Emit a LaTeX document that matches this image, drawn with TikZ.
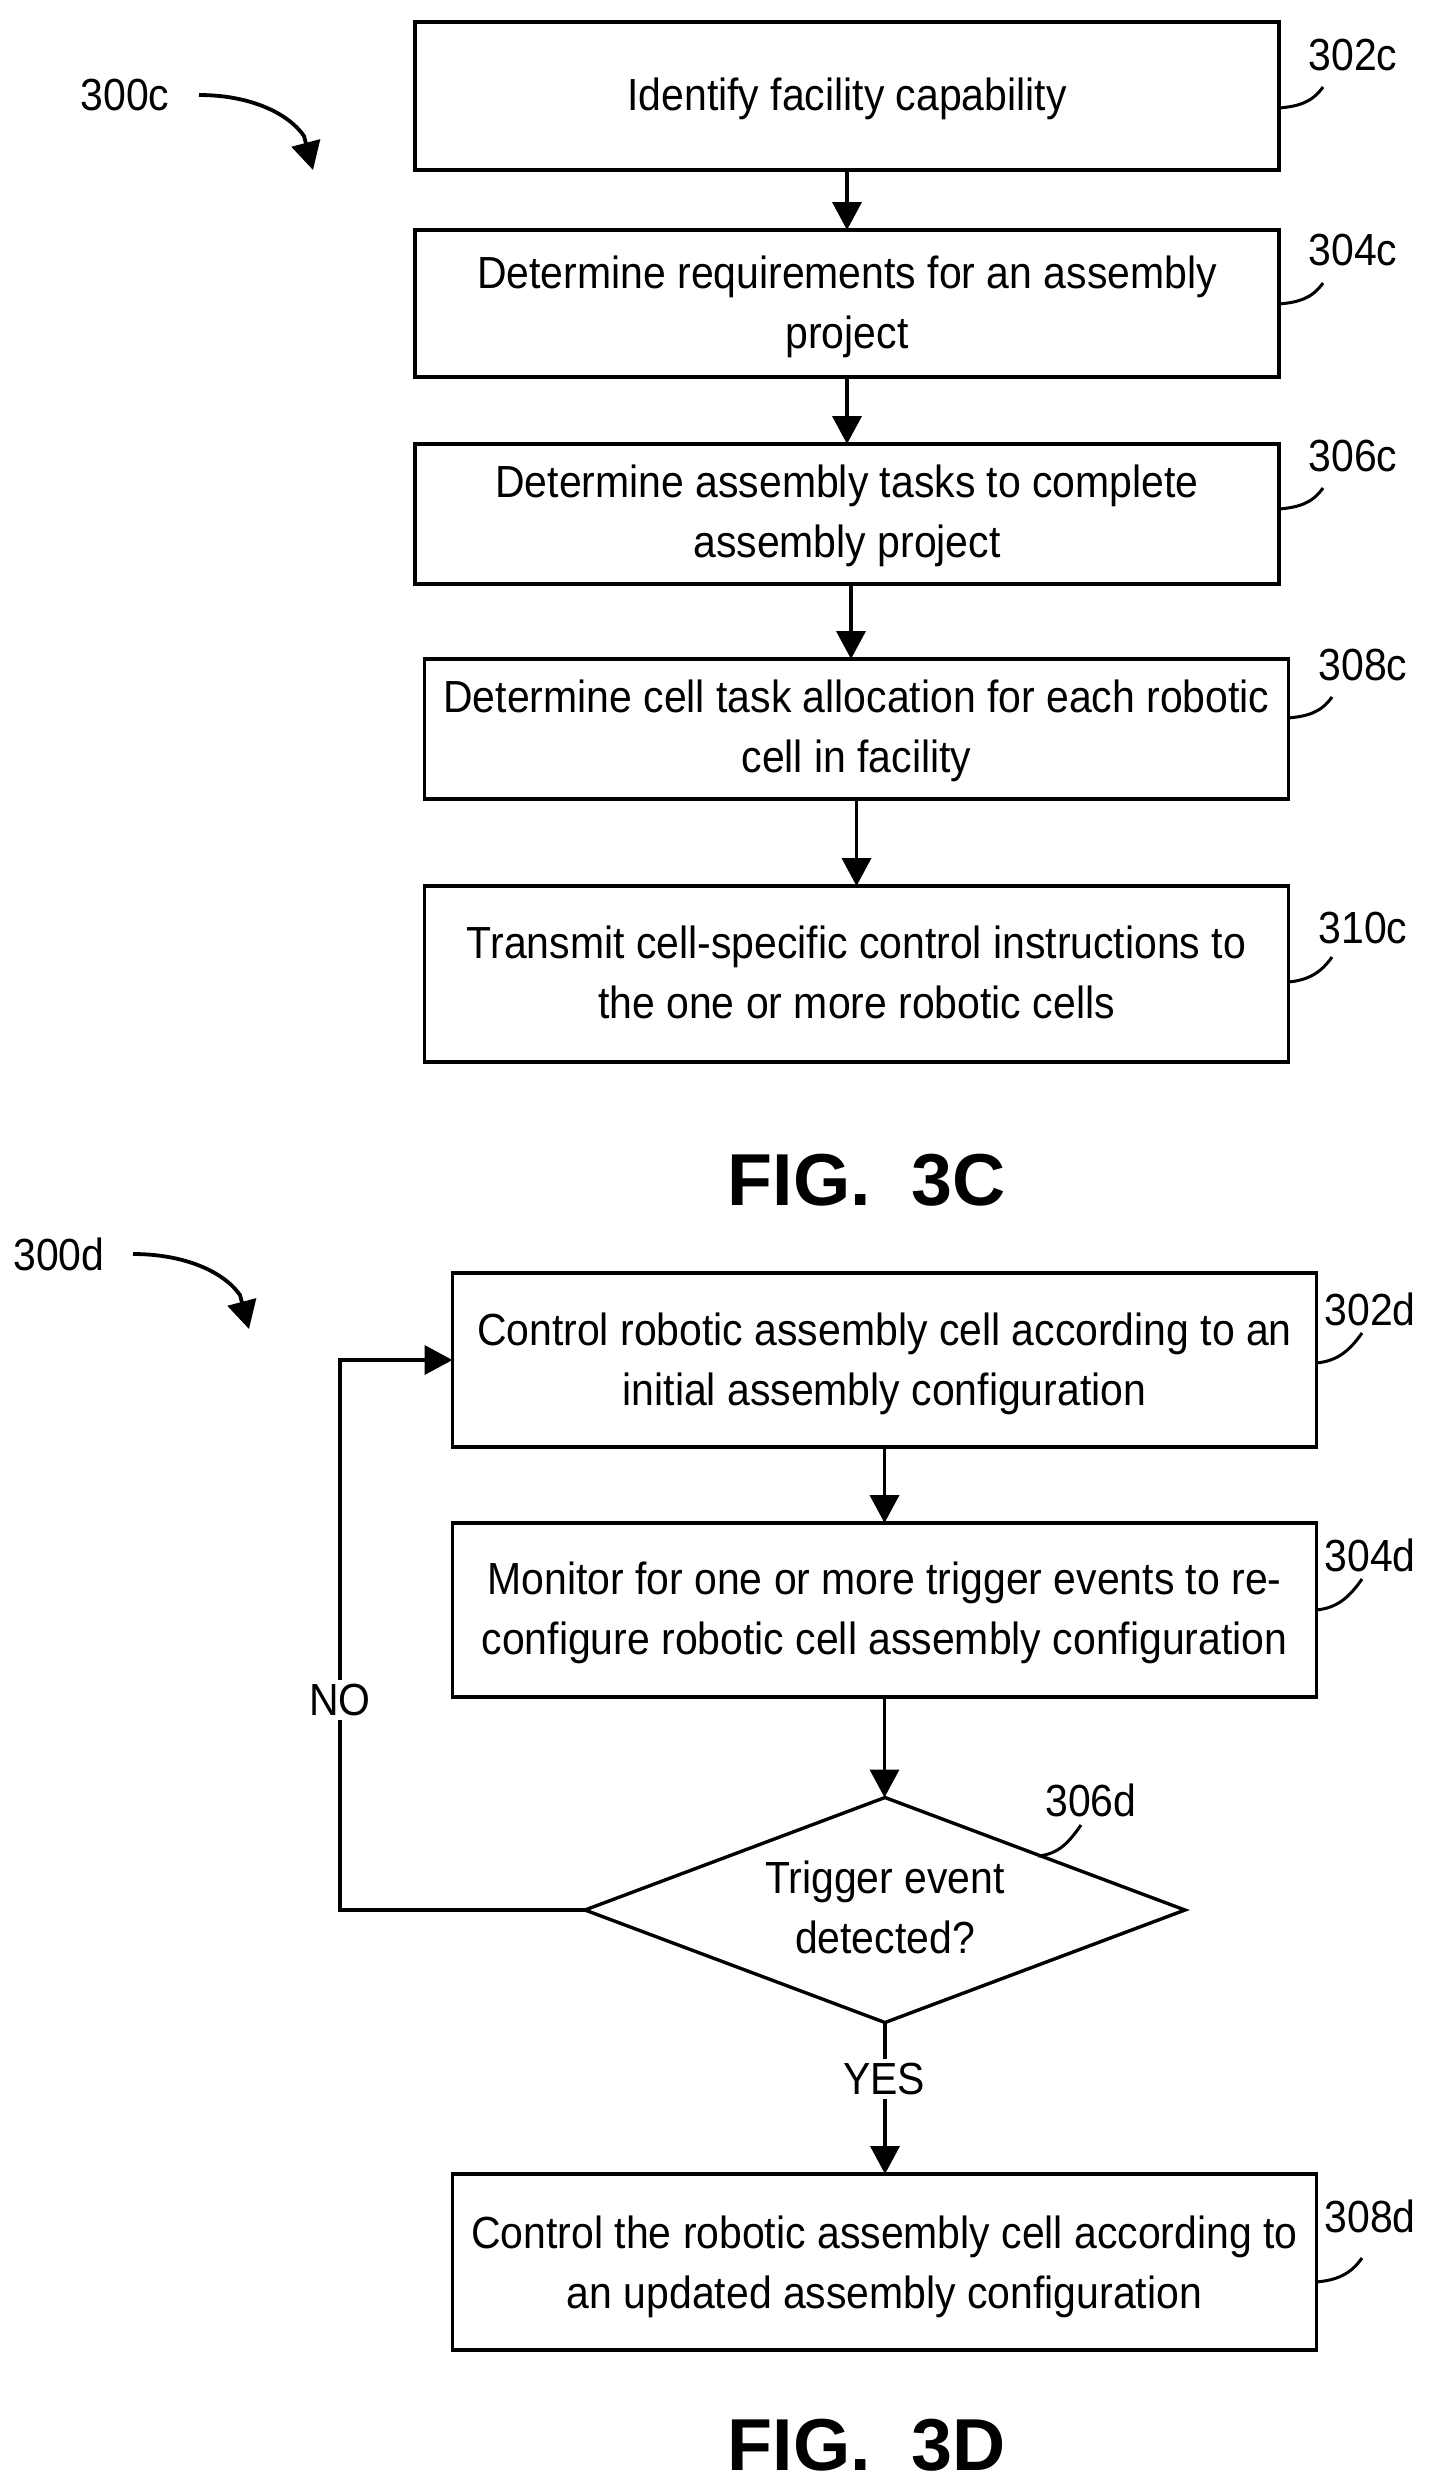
\documentclass[tikz,border=0pt]{standalone}
\usepackage{fontspec}
\setmainfont{Liberation Sans}
\newfontfamily\tallfont[FakeStretch=0.91]{Liberation Sans}
\usetikzlibrary{arrows.meta,shapes.geometric}
\newcommand\toplift[1]{\rule{0pt}{#1pt}}
\newcommand\botfix{\rule[-5pt]{0pt}{5pt}}
\tikzset{
  x=0.5pt,y=-0.5pt,
  stepbox/.style={draw=black,line width=1.9pt,fill=white,align=center,inner sep=0pt,outer sep=0pt,
    font=\tallfont\fontsize{22.5}{30}\selectfont,minimum width=432pt},
  decision/.style={diamond,draw=black,line width=1.7pt,fill=white,align=center,inner sep=0pt,outer sep=0pt,
    aspect=2.67,minimum width=300pt,minimum height=112.5pt,font=\tallfont\fontsize{22.5}{30}\selectfont},
  arr/.style={draw=black,line width=1.9pt,-{Triangle[length=14pt,width=14.5pt]}},
  call/.style={draw=black,line width=1.5pt},
  refnum/.style={inner sep=0pt,font=\tallfont\fontsize{22.5}{24}\selectfont},
  figlabel/.style={inner sep=0pt,font=\fontsize{36.8}{40}\bfseries\selectfont},
  onpath/.style={fill=white,inner sep=2pt,font=\tallfont\fontsize{22.5}{24}\selectfont}
}
\begin{document}
\begin{tikzpicture}
\useasboundingbox (0,0) rectangle (1434,2485);
% Figure 3C
\node[stepbox,minimum height=74pt] (c1) at (847,96) {\toplift{19.9}Identify facility capability\botfix};
\node[stepbox,minimum height=73.5pt] (c2) at (847,303.5) {\toplift{19.9}Determine requirements for an assembly\\\botfix project};
\node[stepbox,minimum height=70pt] (c3) at (847,514) {\toplift{18.3}Determine assembly tasks to complete\\\botfix assembly project};
\node[stepbox,minimum height=70pt] (c4) at (856.5,729) {\toplift{18.3}Determine cell task allocation for each robotic\\\botfix cell in facility};
\node[stepbox,minimum height=88pt] (c5) at (856.5,974) {\toplift{19.8}Transmit cell-specific control instructions to\\\botfix the one or more robotic cells};
\draw[arr] (c1) -- (c2);
\draw[arr] (c2) -- (c3);
\coordinate (a34) at (851,584);
\coordinate (a45) at (856.5,799);
\draw[arr] (a34) -- (a34 |- c4.north);
\draw[arr] (a45) -- (a45 |- c5.north);
\node[refnum] (l300c) at (125,95) {300c};
\node[refnum] (l302c) at (1353,55) {302c};
\node[refnum] (l304c) at (1353,250) {304c};
\node[refnum] (l306c) at (1353,456) {306c};
\node[refnum] (l308c) at (1363,665) {308c};
\node[refnum] (l310c) at (1363,928) {310c};
\coordinate (t300c) at (199,95);
\coordinate (m300c) at (304,136);
\coordinate (h300c) at (313,170);
\draw[arr] (t300c) .. controls (250,95) and (288,113) .. (m300c) -- (h300c);
\coordinate (s2c) at (1279,108); \coordinate (e2c) at (1323,87);
\coordinate (s4c) at (1279,304); \coordinate (e4c) at (1323,283);
\coordinate (s6c) at (1279,509); \coordinate (e6c) at (1323,488);
\coordinate (s8c) at (1288,718); \coordinate (e8c) at (1332,697);
\coordinate (s0c) at (1288,982); \coordinate (e0c) at (1332,957);
\foreach \a in {2c,4c,6c,8c,0c}{\draw[call] (s\a) to[out=5,in=-125] (e\a);}
\node[figlabel] (fc) at (867,1180) {FIG.\ \ 3C};
% Figure 3D
\node[stepbox,minimum height=87pt] (d1) at (884.5,1360) {\toplift{20.7}Control robotic assembly cell according to an\\\botfix initial assembly configuration};
\node[stepbox,minimum height=87pt] (d2) at (884.5,1610) {\toplift{19.9}Monitor for one or more trigger events to re-\\\botfix configure robotic cell assembly configuration};
\node[decision] (d3) at (885,1910) {\toplift{18.2}Trigger event\\\botfix detected?};
\node[stepbox,minimum height=88pt] (d4) at (884.5,2262) {\toplift{21.5}Control the robotic assembly cell according to\\\botfix an updated assembly configuration};
\coordinate (lp) at (340,1360);
\draw[arr] (d1) -- (d2);
\draw[arr] (d2) -- (d2 |- d3.north);
\draw[arr] (d3.south) -- (d3.south |- d4.north);
\draw[arr] (d3.west) -| (lp) -- (d1.west);
\node[onpath] (no) at (340,1700) {NO};
\node[onpath] (yes) at (884,2079) {YES};
\node[refnum] (l300d) at (59,1254) {300d};
\node[refnum] (l302d) at (1370,1309) {302d};
\node[refnum] (l304d) at (1370,1555) {304d};
\node[refnum] (l306d) at (1091,1800) {306d};
\node[refnum] (l308d) at (1370,2216) {308d};
\coordinate (t300d) at (133,1254);
\coordinate (m300d) at (240,1295);
\coordinate (h300d) at (249,1329);
\draw[arr] (t300d) .. controls (185,1254) and (224,1272) .. (m300d) -- (h300d);
\coordinate (s2d) at (1316,1363); \coordinate (e2d) at (1362,1333);
\coordinate (s4d) at (1316,1610); \coordinate (e4d) at (1362,1579);
\coordinate (s6d) at (1038,1856); \coordinate (e6d) at (1081,1825);
\coordinate (s8d) at (1316,2282); \coordinate (e8d) at (1362,2258);
\foreach \a in {2d,4d,6d,8d}{\draw[call] (s\a) to[out=5,in=-125] (e\a);}
\node[figlabel] (fd) at (867,2445) {FIG.\ \ 3D};
\end{tikzpicture}
\end{document}
